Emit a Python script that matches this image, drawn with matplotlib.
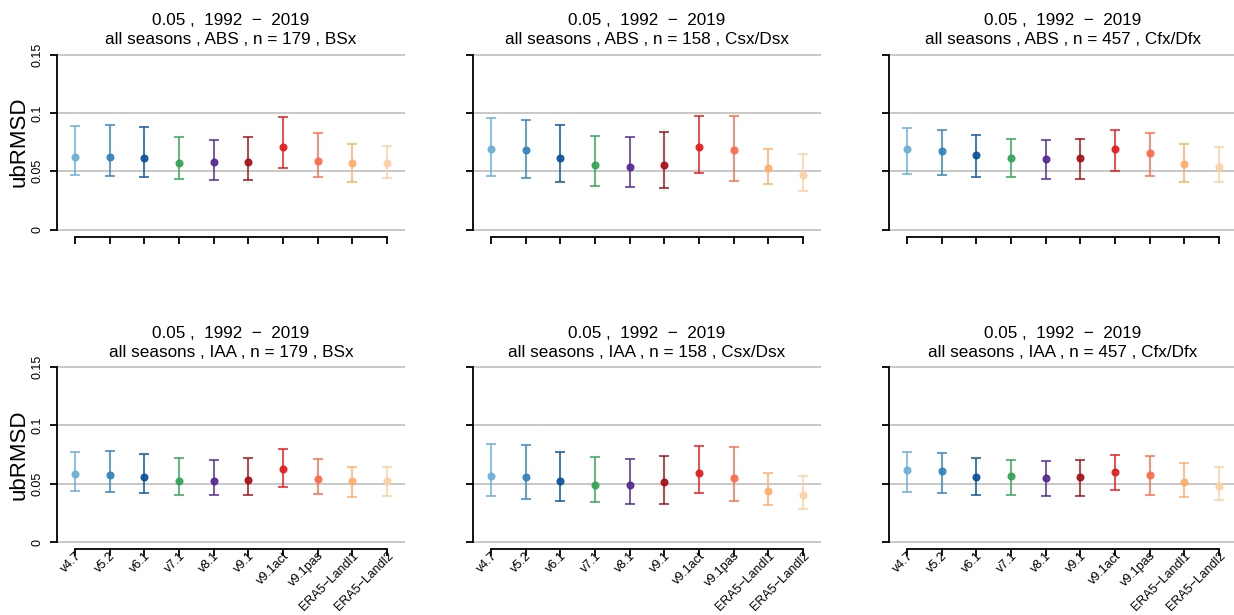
import matplotlib
matplotlib.use('Agg')
import matplotlib.pyplot as plt
import numpy as np

plt.rcParams['font.family'] = ['Liberation Sans', 'DejaVu Sans']

# Products on the x axis
products = ['v4.7', 'v5.2', 'v6.1', 'v7.1', 'v8.1', 'v9.1', 'v9.1act', 'v9.1pas',
            'ERA5−Landl1', 'ERA5−Landl2']
colors = ['#6baed6', '#3182bd', '#08519c', '#31a354', '#54278f', '#a50f15',
          '#e31a1c', '#fb6a4a', '#fdae6b', '#fdd0a2']

# ABS, BSx
abs_bsx_mid = [0.0623, 0.0620, 0.0611, 0.0571, 0.0577, 0.0577, 0.0706, 0.0589, 0.0566, 0.0574]
abs_bsx_lo = [0.0469, 0.0460, 0.0454, 0.0431, 0.0423, 0.0426, 0.0529, 0.0449, 0.0406, 0.0443]
abs_bsx_hi = [0.0883, 0.0894, 0.0877, 0.0791, 0.0763, 0.0794, 0.0960, 0.0829, 0.0729, 0.0717]

# ABS, Csx/Dsx
abs_csx_mid = [0.0689, 0.0683, 0.0617, 0.0554, 0.0540, 0.0557, 0.0709, 0.0680, 0.0526, 0.0469]
abs_csx_lo = [0.0460, 0.0443, 0.0406, 0.0371, 0.0363, 0.0354, 0.0486, 0.0414, 0.0394, 0.0329]
abs_csx_hi = [0.0957, 0.0940, 0.0894, 0.0800, 0.0794, 0.0834, 0.0971, 0.0977, 0.0694, 0.0646]

# ABS, Cfx/Dfx
abs_cfx_mid = [0.0691, 0.0674, 0.0640, 0.0614, 0.0606, 0.0614, 0.0686, 0.0654, 0.0560, 0.0534]
abs_cfx_lo = [0.0477, 0.0466, 0.0454, 0.0446, 0.0437, 0.0431, 0.0500, 0.0460, 0.0409, 0.0409]
abs_cfx_hi = [0.0866, 0.0851, 0.0814, 0.0777, 0.0766, 0.0777, 0.0851, 0.0826, 0.0731, 0.0709]

# IAA, BSx
iaa_bsx_mid = [0.0580, 0.0574, 0.0554, 0.0523, 0.0523, 0.0529, 0.0626, 0.0540, 0.0520, 0.0526]
iaa_bsx_lo = [0.0440, 0.0426, 0.0417, 0.0400, 0.0400, 0.0403, 0.0469, 0.0411, 0.0383, 0.0397]
iaa_bsx_hi = [0.0769, 0.0777, 0.0754, 0.0717, 0.0700, 0.0720, 0.0794, 0.0714, 0.0643, 0.0646]

# IAA, Csx/Dsx
iaa_csx_mid = [0.0569, 0.0560, 0.0526, 0.0491, 0.0486, 0.0514, 0.0594, 0.0549, 0.0434, 0.0406]
iaa_csx_lo = [0.0397, 0.0371, 0.0349, 0.0340, 0.0326, 0.0323, 0.0420, 0.0354, 0.0320, 0.0286]
iaa_csx_hi = [0.0837, 0.0829, 0.0769, 0.0726, 0.0709, 0.0734, 0.0823, 0.0811, 0.0594, 0.0563]

# IAA, Cfx/Dfx
iaa_cfx_mid = [0.0620, 0.0609, 0.0557, 0.0563, 0.0546, 0.0557, 0.0603, 0.0574, 0.0511, 0.0483]
iaa_cfx_lo = [0.0431, 0.0423, 0.0400, 0.0403, 0.0391, 0.0391, 0.0446, 0.0406, 0.0383, 0.0363]
iaa_cfx_hi = [0.0771, 0.0766, 0.0717, 0.0700, 0.0697, 0.0700, 0.0749, 0.0734, 0.0680, 0.0640]

panels = [
    ('ABS', 179, 'BSx', abs_bsx_mid, abs_bsx_lo, abs_bsx_hi),
    ('ABS', 158, 'Csx/Dsx', abs_csx_mid, abs_csx_lo, abs_csx_hi),
    ('ABS', 457, 'Cfx/Dfx', abs_cfx_mid, abs_cfx_lo, abs_cfx_hi),
    ('IAA', 179, 'BSx', iaa_bsx_mid, iaa_bsx_lo, iaa_bsx_hi),
    ('IAA', 158, 'Csx/Dsx', iaa_csx_mid, iaa_csx_lo, iaa_csx_hi),
    ('IAA', 457, 'Cfx/Dfx', iaa_cfx_mid, iaa_cfx_lo, iaa_cfx_hi),
]

W, H = 1234, 615
fig = plt.figure(figsize=(W / 100, H / 100), dpi=100)

# positions of the axes in pixels
lefts = [57, 473, 889]
bottoms = [236.5, 549.0]
ax_w, ax_h = 348, 189

x = np.arange(1, len(products) + 1)

for k, (method, n, clim, mid, lo, hi) in enumerate(panels):
    row, col = divmod(k, 3)
    ax = fig.add_axes([lefts[col] / W, 1 - bottoms[row] / H, ax_w / W, ax_h / H])
    ax.set_xlim(0.48, 10.52)
    ax.set_ylim(-0.006, 0.156)

    for yg in [0, 0.05, 0.1, 0.15]:
        ax.axhline(yg, color='#c4c4c4', lw=1.3, zorder=0)

    mid = np.array(mid)
    yerr = [mid - np.array(lo), np.array(hi) - mid]
    for i in range(len(products)):
        ax.errorbar(x[i], mid[i], yerr=[[yerr[0][i]], [yerr[1][i]]], fmt='o',
                    color=colors[i], ms=4.8, lw=1.2, capsize=3.4, capthick=1.2,
                    alpha=0.9)

    for s in ['top', 'right']:
        ax.spines[s].set_visible(False)
    ax.spines['left'].set_bounds(0, 0.15)
    ax.spines['bottom'].set_bounds(1, 10)
    ax.spines['left'].set_linewidth(1.3)
    ax.spines['bottom'].set_linewidth(1.3)

    ax.set_yticks([0, 0.05, 0.1, 0.15])
    ax.set_xticks(x)
    ax.tick_params(axis='both', length=5, width=1.3)
    if col == 0:
        ax.set_yticklabels(['0', '0.05', '0.1', '0.15'], rotation=90, va='center',
                           fontsize=9)
        ax.tick_params(axis='y', pad=5)
        ax.set_ylabel('ubRMSD', fontsize=16)
        ax.yaxis.set_label_coords(-0.08, 0.5)
    else:
        ax.set_yticklabels([])
    if row == 1:
        ax.set_xticklabels(products, rotation=45, ha='right', va='top',
                           rotation_mode='anchor', fontsize=9)
        ax.tick_params(axis='x', pad=-4.5)
    else:
        ax.set_xticklabels([])

    ax.set_title(f'0.05 ,  1992  −  2019\nall seasons , {method} , n = {n} , {clim}',
                 fontsize=12.3, linespacing=1.35, pad=2)

fig.savefig('out.png', dpi=100)
